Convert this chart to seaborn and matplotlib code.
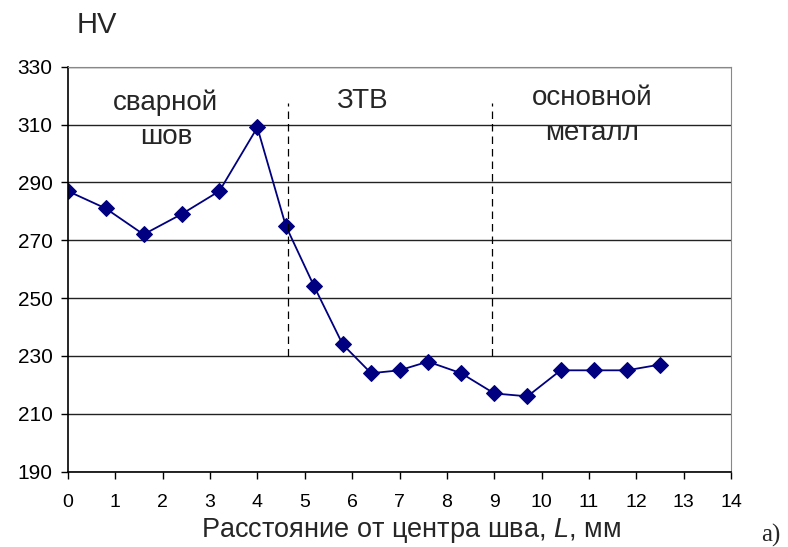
import matplotlib
matplotlib.use("Agg")
import matplotlib.pyplot as plt
import seaborn as sns
import pandas as pd

# distance from weld centre, mm
dist = [0, 0.8, 1.6, 2.4, 3.2, 4.0, 4.6, 5.2, 5.8, 6.4, 7.0, 7.6, 8.3, 9.0, 9.7, 10.4, 11.1, 11.8, 12.5]
# hardness HV
hv = [287, 281, 272, 279, 287, 309, 275, 254, 234, 224, 225, 228, 224, 217, 216, 225, 225, 225, 227]

zone_bounds = [4.65, 8.95]
x_ticks = list(range(0, 15))
y_ticks = list(range(190, 331, 20))

df = pd.DataFrame({"L": dist, "HV": hv})

sns.set_style("white")
plt.rcParams["font.family"] = ["Liberation Sans", "DejaVu Sans"]
plt.rcParams["mathtext.fontset"] = "custom"
plt.rcParams["mathtext.it"] = "Liberation Sans:italic"
plt.rcParams["mathtext.rm"] = "Liberation Sans"

fig = plt.figure(figsize=(7.88, 5.47), dpi=100)
ax = fig.add_axes([0.086, 0.138, 0.842, 0.740])

sns.lineplot(data=df, x="L", y="HV", ax=ax, color="#000080", marker="D",
             markersize=8, markeredgecolor="#000080", linewidth=1.3)

ax.set_xlim(0, 14)
ax.set_ylim(190, 330)
ax.set_xticks(x_ticks)
ax.set_yticks(y_ticks)
ax.yaxis.grid(True, color="#222222", linewidth=1)
ax.set_axisbelow(True)

for b in zone_bounds:
    ax.plot([b, b], [230, 317.5], color="black", linestyle=(0, (6, 4)), linewidth=0.9)

ax.text(2.07, 317.6, "сварной", ha="center", va="center", fontsize=20)
ax.text(2.07, 305.8, "шов", ha="center", va="center", fontsize=20)
ax.text(6.2, 318.3, "ЗТВ", ha="center", va="center", fontsize=20)
ax.text(11.06, 319.3, "основной", ha="center", va="center", fontsize=20)
ax.text(11.06, 307.0, "металл", ha="center", va="center", fontsize=20)

for s in ["top", "right"]:
    ax.spines[s].set_color("#888888")
for s in ["left", "bottom"]:
    ax.spines[s].set_color("black")
    ax.spines[s].set_linewidth(1.2)

ax.tick_params(axis="both", direction="out", length=5, width=1, colors="black",
               bottom=True, left=True)
ax.tick_params(axis="y", labelsize=15, pad=6)
ax.tick_params(axis="x", labelsize=14, pad=11)

ax.set_ylabel("")
ax.set_xlabel("")
fig.text(0.522, 0.031, "Расстояние от центра шва, $\\mathit{L}$, мм", fontsize=19.5,
         ha="center", va="center")

fig.text(0.123, 0.954, "HV", fontsize=21, ha="center", va="center")
fig.text(0.966, 0.022, "а)", fontsize=18, ha="left", va="center", family="Liberation Serif")

fig.savefig("out.png", dpi=100)
